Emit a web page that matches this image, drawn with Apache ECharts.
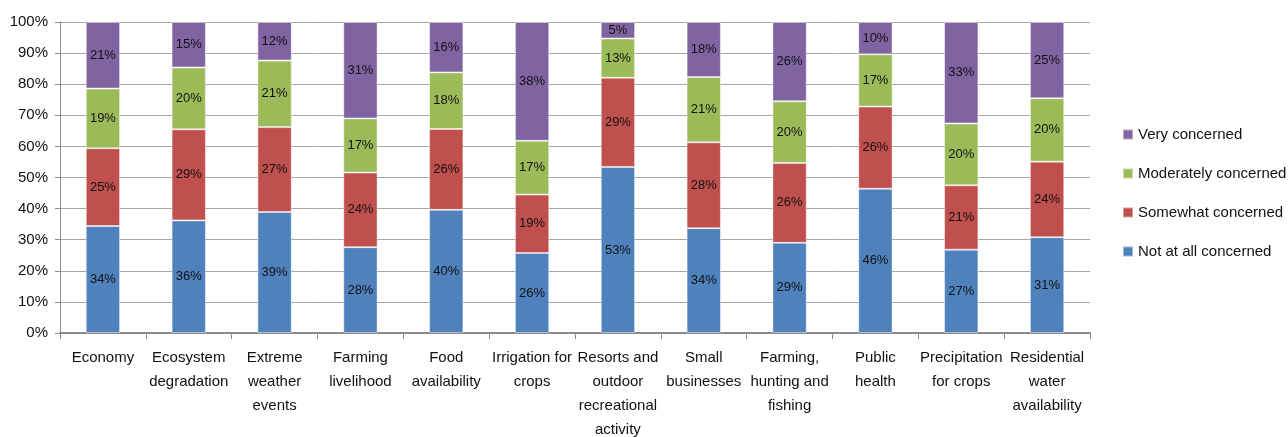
<!DOCTYPE html>
<html>
<head>
<meta charset="utf-8">
<script src="https://cdn.jsdelivr.net/npm/echarts@6/dist/echarts.min.js"></script>
<style>
html,body{margin:0;padding:0;background:#fff;}
#chart{width:1288px;height:437px;}
</style>
</head>
<body>
<div id="chart"></div>
<script>
const categories = [
  "Economy",
  "Ecosystem\ndegradation",
  "Extreme\nweather\nevents",
  "Farming\nlivelihood",
  "Food\navailability",
  "Irrigation for\ncrops",
  "Resorts and\noutdoor\nrecreational\nactivity",
  "Small\nbusinesses",
  "Farming,\nhunting and\nfishing",
  "Public\nhealth",
  "Precipitation\nfor crops",
  "Residential\nwater\navailability"
];
const notAtAll   = [34.4, 36.2, 38.9, 27.6, 39.6, 25.7, 53.4, 33.7, 29.0, 46.4, 26.8, 30.8];
const somewhat   = [25.0, 29.3, 27.3, 24.0, 26.0, 18.8, 28.7, 27.6, 25.7, 26.4, 20.7, 24.3];
const moderately = [19.2, 19.9, 21.4, 17.4, 18.2, 17.3, 12.6, 21.0, 19.8, 16.8, 19.9, 20.4];
const very       = [21.4, 14.6, 12.4, 31.0, 16.2, 38.2,  5.3, 17.7, 25.5, 10.4, 32.6, 24.5];
const yTicks = ["0%","10%","20%","30%","40%","50%","60%","70%","80%","90%","100%"];

const FONT = '"Liberation Sans Narrow", "Liberation Sans", sans-serif';
const chart = echarts.init(document.getElementById('chart'), null, {renderer:'canvas'});

function mk(name, data, color){
  return {
    name, type:'bar', stack:'total', data, barWidth:'40%',
    itemStyle:{color, borderColor:'rgba(255,255,255,0.45)', borderWidth:1},
    label:{show:true, position:'inside', color:'#111', fontSize:13, fontFamily:FONT,
      formatter:p=>Math.round(p.value)+'%'},
    emphasis:{disabled:true}
  };
}

chart.setOption({
  animation:false,
  grid:{left:60, right:198, top:22, bottom:104, containLabel:false, outerBoundsMode:'none'},
  legend:{
    orient:'vertical', left:1117, top:122, itemWidth:10, itemHeight:10, itemGap:24,
    icon:'rect',
    textStyle:{fontSize:15, color:'#111', fontFamily:FONT},
    data:['Very concerned','Moderately concerned','Somewhat concerned','Not at all concerned']
  },
  xAxis:{
    type:'category', data:categories,
    axisLine:{lineStyle:{color:'#8c8c8c', width:2}},
    axisTick:{show:true, length:6, lineStyle:{color:'#8c8c8c'}},
    axisLabel:{interval:0, color:'#111', fontSize:15, fontFamily:FONT, lineHeight:24, margin:13}
  },
  yAxis:{
    type:'value', min:0, max:100, interval:10,
    axisLine:{show:true, lineStyle:{color:'#8c8c8c'}},
    axisTick:{show:true, length:5, lineStyle:{color:'#8c8c8c'}},
    splitLine:{lineStyle:{color:'#a6a6a6', width:1}},
    axisLabel:{color:'#111', fontSize:15, fontFamily:FONT, margin:12,
      formatter:v=>yTicks[Math.round(v/10)]}
  },
  series:[
    mk('Not at all concerned', notAtAll, '#4F81BD'),
    mk('Somewhat concerned', somewhat, '#C0504D'),
    mk('Moderately concerned', moderately, '#9BBB59'),
    mk('Very concerned', very, '#8064A2')
  ]
});
</script>
</body>
</html>
